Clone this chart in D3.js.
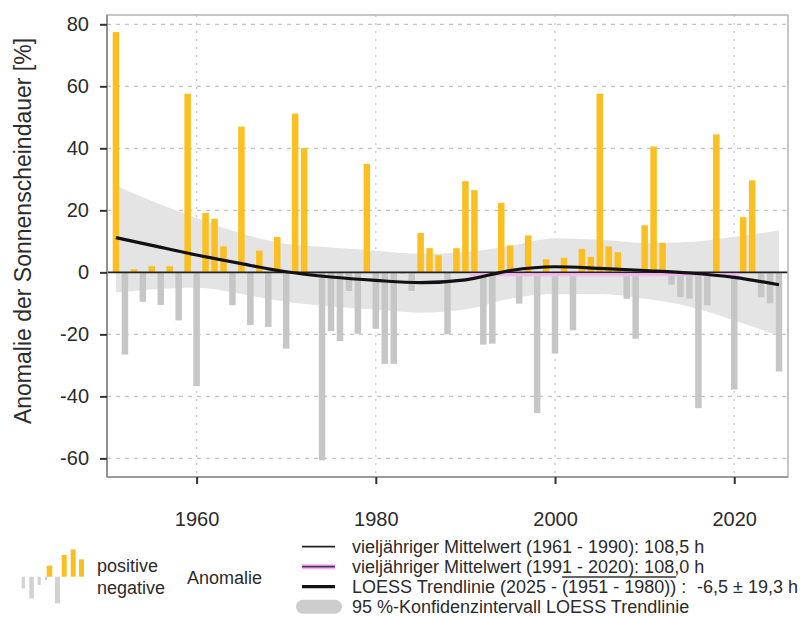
<!DOCTYPE html>
<html>
<head>
<meta charset="utf-8">
<script src="https://cdn.jsdelivr.net/npm/d3@7"></script>
<style>
  body { margin: 0; background: #fff; }
  svg { font-family: "Liberation Sans", Arial, sans-serif; }
  .tick text { fill: #2b2b2b; }
</style>
</head>
<body>
<script>
// anomalies of sunshine duration [%], 1951 - 2025
const years = d3.range(1951, 2026);
const anomalies = [
  77.5, -26.5, 1, -9.5, 2, -10.5, 2, -15.5, 57.6, -36.7,
  19.2, 17.3, 8.4, -10.6, 47, -17, 7, -17.6, 11.4, -24.6,
  51.2, 40.1, -0.5, -60.6, -19, -22.2, -6, -19.8, 35, -18.2,
  -29.5, -29.5, -0.5, -6, 12.7, 7.8, 5.5, -20, 7.8, 29.4,
  26.5, -23.3, -23, 22.4, 8.7, -10.1, 11.9, -45.4, 4.2, -26.2,
  4.7, -18.7, 7.6, 5, 57.6, 8.4, 6.5, -8.5, -21.4, 15.2,
  40.6, 9.5, -4, -8, -8.5, -43.8, -10.6, 44.5, -0.5, -37.8,
  17.8, 29.7, -8, -10, -32
];

// LOESS trend and 95 % band, read at a few years
const trendYears = [1951, 1955, 1960, 1965, 1970, 1975, 1980, 1985, 1990, 1995, 2000, 2005, 2010, 2015, 2020, 2025];
const trend = [11.2, 8.7, 5.6, 2.8, 0.2, -1.5, -2.6, -3.3, -2.4, 0.6, 1.8, 1.3, 0.6, -0.2, -1.6, -4.0];
const bandUpper = [28, 23, 17.5, 12.5, 9.2, 8, 7, 6, 6.5, 8.5, 11, 10.5, 9.5, 9.8, 11.5, 13.5];
const bandLower = [-6.5, -5.5, -5, -7, -9.5, -11, -12, -13, -12, -8.5, -7, -7, -8.5, -11, -15.5, -20.5];

// mean 1991-2020 relative to 1961-1990
const mean2Period = [1990.5, 2020.5];
const mean2Value = (108.0 - 108.5) / 108.5 * 100;

const yTicks = [-60, -40, -20, 0, 20, 40, 60, 80];
const xTicks = [1960, 1980, 2000, 2020];

const width = 808, height = 617;
const m = {left: 107, right: 788, top: 15, bottom: 477};

const svg = d3.select("body").append("svg")
    .attr("width", width)
    .attr("height", height);

const x = d3.scaleLinear().domain([1950, 2026]).range([m.left, m.right]);
const y = d3.scaleLinear().domain([-66, 83]).range([m.bottom, m.top]);

// grid
svg.append("g")
    .selectAll("line")
    .data(yTicks.filter(d => d !== 0))
    .join("line")
    .attr("x1", m.left).attr("x2", m.right)
    .attr("y1", d => y(d)).attr("y2", d => y(d))
    .attr("stroke", "#c4c4c4")
    .attr("stroke-width", 1.3)
    .attr("stroke-dasharray", "4,5");

svg.append("g")
    .selectAll("line")
    .data(xTicks)
    .join("line")
    .attr("x1", d => x(d)).attr("x2", d => x(d))
    .attr("y1", m.top).attr("y2", m.bottom)
    .attr("stroke", "#c8c8c8")
    .attr("stroke-width", 1.3)
    .attr("stroke-dasharray", "2,6");

// confidence band
const bandData = trendYears.map((yr, i) => ({yr, lo: bandLower[i], hi: bandUpper[i]}));
svg.append("path")
    .datum(bandData)
    .attr("fill", "#e4e4e4")
    .attr("d", d3.area()
        .x(d => x(d.yr))
        .y0(d => y(d.lo))
        .y1(d => y(d.hi))
        .curve(d3.curveMonotoneX));

// bars
const barW = 6.5;
svg.append("g")
    .selectAll("rect")
    .data(years.map((yr, i) => ({yr, v: anomalies[i]})))
    .join("rect")
    .attr("x", d => x(d.yr) - barW / 2)
    .attr("width", barW)
    .attr("y", d => y(Math.max(0, d.v)))
    .attr("height", d => Math.abs(y(d.v) - y(0)))
    .attr("fill", d => d.v >= 0 ? "#fbbf22" : "#c6c6c6");

// mean lines
svg.append("line")
    .attr("x1", m.left).attr("x2", m.right)
    .attr("y1", y(0)).attr("y2", y(0))
    .attr("stroke", "#222").attr("stroke-width", 1.6);

svg.append("line")
    .attr("x1", x(mean2Period[0])).attr("x2", x(mean2Period[1]))
    .attr("y1", y(mean2Value) + 1).attr("y2", y(mean2Value) + 1)
    .attr("stroke", "#f2b6f2").attr("stroke-width", 3);

// loess trend
svg.append("path")
    .datum(trendYears.map((yr, i) => ({yr, v: trend[i]})))
    .attr("fill", "none")
    .attr("stroke", "#111")
    .attr("stroke-width", 3.2)
    .attr("d", d3.line()
        .x(d => x(d.yr))
        .y(d => y(d.v))
        .curve(d3.curveMonotoneX));

// frame
svg.append("rect")
    .attr("x", m.left).attr("y", m.top)
    .attr("width", m.right - m.left).attr("height", m.bottom - m.top)
    .attr("fill", "none")
    .attr("stroke", "#b4b4b4")
    .attr("stroke-width", 1.5);
svg.append("line")
    .attr("x1", m.left).attr("x2", m.left).attr("y1", m.top).attr("y2", m.bottom)
    .attr("stroke", "#8c8c8c").attr("stroke-width", 1.8);
svg.append("line")
    .attr("x1", m.left).attr("x2", m.right).attr("y1", m.bottom).attr("y2", m.bottom)
    .attr("stroke", "#9a9a9a").attr("stroke-width", 1.8);

// axes
const yAxis = svg.append("g")
    .attr("transform", `translate(${m.left},0)`)
    .call(d3.axisLeft(y).tickValues(yTicks).tickFormat(d => String(d)).tickSize(7).tickPadding(11));
yAxis.select(".domain").remove();
yAxis.selectAll(".tick line").attr("stroke", "#333").attr("stroke-width", 2);
yAxis.selectAll(".tick text").style("font-size", "20px");

const xAxis = svg.append("g")
    .attr("transform", `translate(0,${m.bottom})`)
    .call(d3.axisBottom(x).tickValues(xTicks).tickFormat(d => String(d)).tickSize(7).tickPadding(28));
xAxis.select(".domain").remove();
xAxis.selectAll(".tick line").attr("stroke", "#333").attr("stroke-width", 2);
xAxis.selectAll(".tick text").style("font-size", "20px");

svg.append("text")
    .attr("transform", `translate(31,${(m.top + m.bottom) / 2 - 15}) rotate(-90)`)
    .attr("text-anchor", "middle")
    .style("font-size", "23px")
    .attr("fill", "#2b2b2b")
    .text("Anomalie der Sonnenscheindauer [%]");

// legend
const lg = svg.append("g");
const iconBase = 576.7;
const iconNeg = [[21.7, 3.3, 11.7], [29.3, 4.6, 21.7], [37.7, 3, 8.3], [45, 2.3, 3.3], [55, 5, 26.7]];
const iconYel = [[46.7, 5.6, 11], [61.7, 5, 21.7], [70.7, 5, 27.3], [79, 5, 17.3]];
lg.selectAll("rect.neg").data(iconNeg).join("rect")
    .attr("class", "neg")
    .attr("x", d => d[0]).attr("width", d => d[1])
    .attr("y", iconBase).attr("height", d => d[2])
    .attr("fill", "#d2d2d2");
lg.selectAll("rect.pos").data(iconYel).join("rect")
    .attr("class", "pos")
    .attr("x", d => d[0]).attr("width", d => d[1])
    .attr("y", d => iconBase - d[2]).attr("height", d => d[2])
    .attr("fill", "#fbbf22");

const legendFont = "18px";
lg.append("text").attr("x", 97).attr("y", 572).style("font-size", legendFont).attr("fill", "#2b2b2b").text("positive");
lg.append("text").attr("x", 97).attr("y", 594).style("font-size", legendFont).attr("fill", "#2b2b2b").text("negative");
lg.append("text").attr("x", 187).attr("y", 584).style("font-size", legendFont).attr("fill", "#2b2b2b").text("Anomalie");

const rows = [
  "vieljähriger Mittelwert (1961 - 1990): 108,5 h",
  "vieljähriger Mittelwert (1991 - 2020): 108,0 h",
  "LOESS Trendlinie (2025 - (1951 - 1980)) :",
  "95 %-Konfidenzintervall LOESS Trendlinie"
];
const rowY = [546.7, 566.7, 586.7, 606.7];
const textX = 352;

const rowTexts = lg.selectAll("text.row").data(rows).join("text")
    .attr("class", "row")
    .attr("x", textX)
    .attr("y", (d, i) => rowY[i] + 6.5)
    .style("font-size", legendFont)
    .attr("fill", "#2b2b2b")
    .text(d => d);

lg.append("text").attr("x", 697).attr("y", rowY[2] + 6.5)
    .style("font-size", legendFont).attr("fill", "#2b2b2b")
    .text("-6,5 ± 19,3 h");

// overline over the reference period
const row3 = rowTexts.nodes()[2];
const s = rows[2].indexOf("(1951");
const e = rows[2].indexOf("))") + 2;
const ox = textX + row3.getSubStringLength(0, s);
const ow = row3.getSubStringLength(s, e - s);
lg.append("line")
    .attr("x1", ox).attr("x2", ox + ow)
    .attr("y1", 577).attr("y2", 577)
    .attr("stroke", "#333").attr("stroke-width", 1.5);

// swatches
lg.append("line").attr("x1", 302).attr("x2", 335).attr("y1", rowY[0]).attr("y2", rowY[0])
    .attr("stroke", "#222").attr("stroke-width", 1.8);
lg.append("line").attr("x1", 302).attr("x2", 335).attr("y1", rowY[1]).attr("y2", rowY[1])
    .attr("stroke", "#f2b6f2").attr("stroke-width", 5);
lg.append("line").attr("x1", 302).attr("x2", 335).attr("y1", rowY[1]).attr("y2", rowY[1])
    .attr("stroke", "#5a2a6a").attr("stroke-width", 1.8);
lg.append("line").attr("x1", 302).attr("x2", 335).attr("y1", rowY[2]).attr("y2", rowY[2])
    .attr("stroke", "#111").attr("stroke-width", 3.2);
lg.append("rect").attr("x", 296).attr("y", rowY[3] - 7).attr("width", 46).attr("height", 14)
    .attr("rx", 7).attr("fill", "#cdcdcd");
</script>
</body>
</html>
